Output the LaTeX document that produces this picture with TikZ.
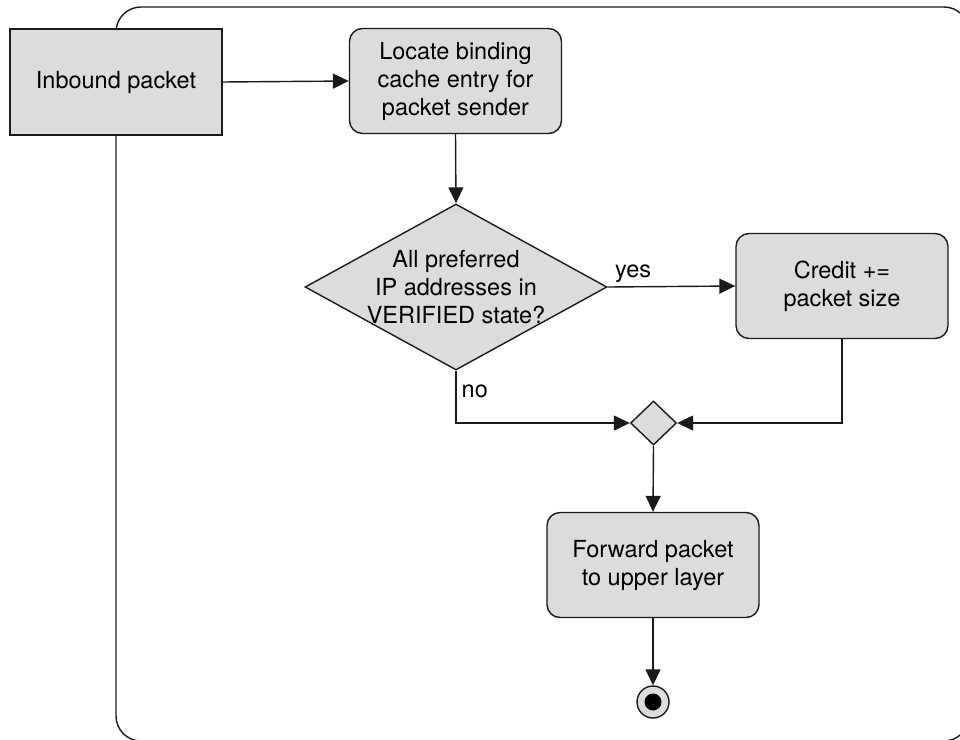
\documentclass[tikz,border=0pt]{standalone}
\usepackage{fontspec}
\setmainfont{TeX Gyre Heros}
\usetikzlibrary{shapes.geometric,arrows.meta}
\definecolor{boxfill}{HTML}{DCDCDC}
\definecolor{ink}{HTML}{1A1A1A}
\tikzset{
  base/.style={draw=ink, line width=1.4pt, fill=boxfill, align=center,
    font=\fontsize{23.5}{28}\selectfont, inner sep=0pt},
  plainbox/.style={base, rectangle, minimum width=212pt, minimum height=106pt},
  actbox/.style={base, rectangle, rounded corners=13pt, minimum width=212pt, minimum height=105pt},
  decision/.style={base, diamond, aspect=1.82, minimum width=302pt, minimum height=166pt},
  merge/.style={base, diamond, minimum width=46pt, minimum height=44pt},
  flow/.style={draw=ink, line width=1.4pt, -{Triangle[length=16pt,width=15pt]}},
  lbl/.style={font=\fontsize{23.5}{28}\selectfont, inner sep=0pt, align=center}
}
\begin{document}
\begin{tikzpicture}[x=1pt,y=-1pt]
\useasboundingbox (0,0) rectangle (960,739);
% swimlane frame, running past the page edges
\begin{scope}
  \clip (0,0) rectangle (960,739);
  \draw[ink, line width=1.4pt, rounded corners=25pt] (116,7) rectangle (969,741);
\end{scope}

\node[plainbox] (inbound) at (116,82) {Inbound packet};
\node[actbox] (locate) at (455.5,81) {Locate binding\\cache entry for\\packet sender};
\node[decision] (check) at (456,287) {};
\node[lbl] (checktext) at (check.center) {All preferred\\IP addresses in\\VERIFIED state?};
\node[actbox] (credit) at (842,286) {Credit +=\\packet size};
\node[merge] (join) at (653.5,423) {};
\node[actbox] (forward) at (653,565) {Forward packet\\to upper layer};
\node[circle, draw=ink, line width=1.4pt, fill=boxfill, minimum size=32pt, inner sep=0pt] (final) at (653,702) {};
\node[circle, fill=black, minimum size=17pt, inner sep=0pt] (finaldot) at (final.center) {};

\draw[flow] (inbound.east) -- (locate.west);
\draw[flow] (locate.south) -- (check.north);
\draw[flow] (check.east) -- node[lbl, above, pos=0.2, yshift=3pt] {yes} (credit.west);
\draw[flow] (check.south) |- node[lbl, pos=0.2, right, xshift=5pt] {no} (join.west);
\draw[flow] (credit.south) |- (join.east);
\draw[flow] (join.south) -- (forward.north);
\draw[flow] (forward.south) -- (final.north);
\end{tikzpicture}
\end{document}
